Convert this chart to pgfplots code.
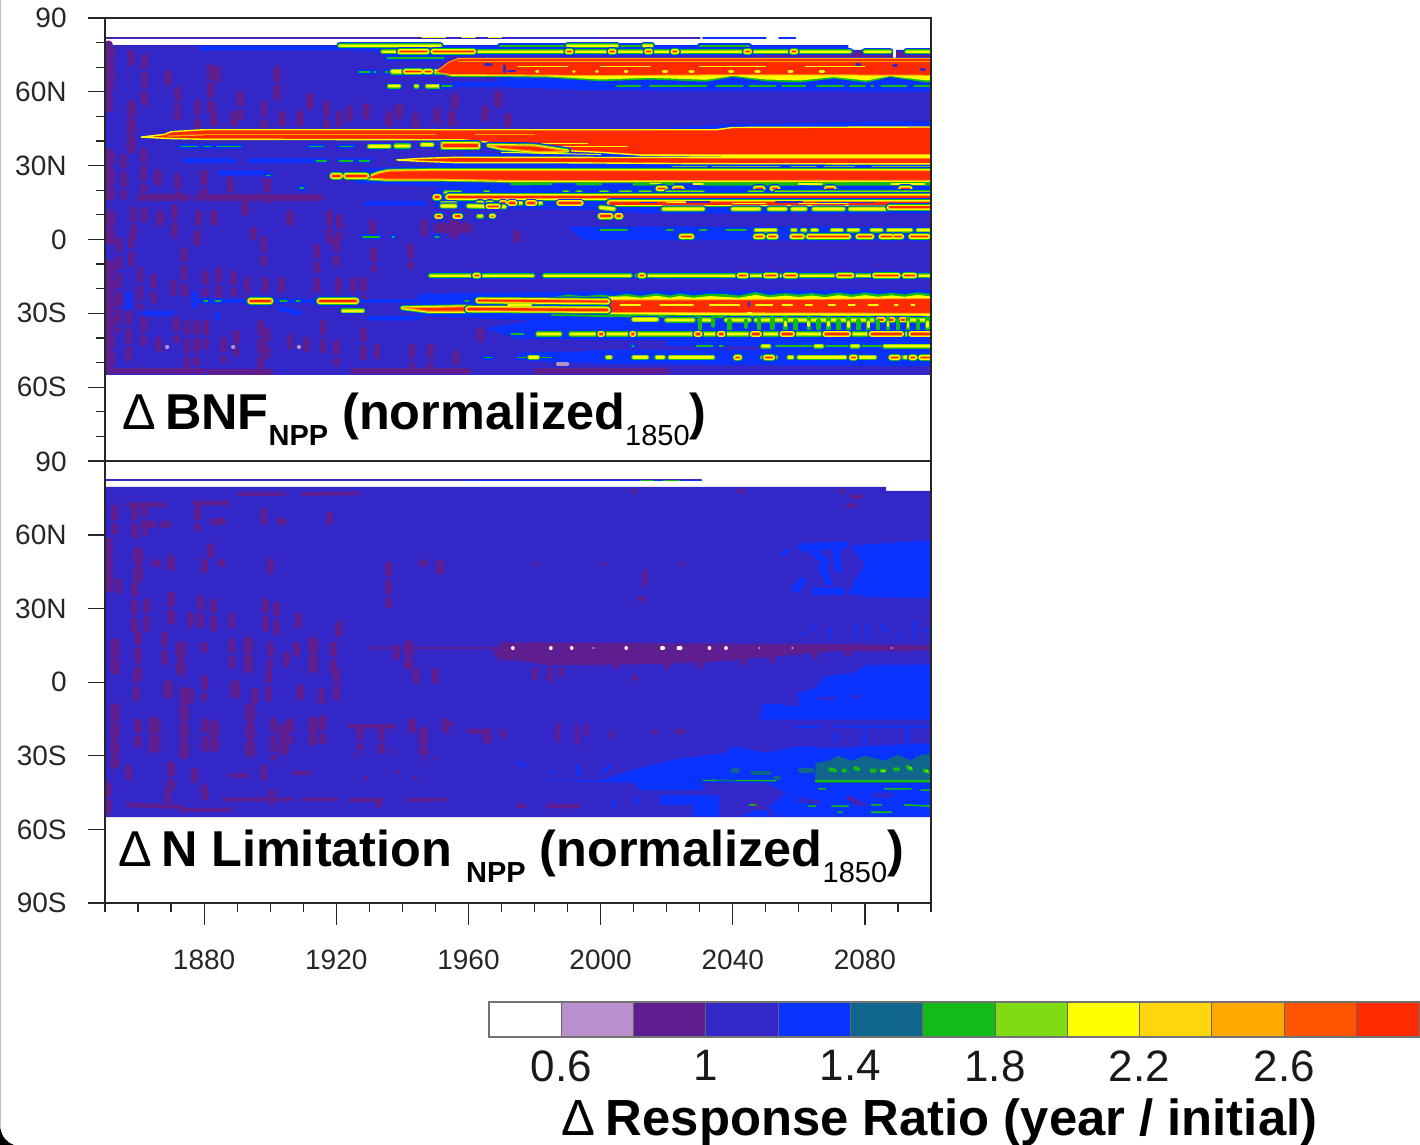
\documentclass[border=0pt]{standalone}
\usepackage{fontspec}
\setmainfont{Liberation Sans}
\usepackage{pgfplots}
\pgfplotsset{compat=1.18}
\definecolor{cLi}{HTML}{B98FCC}
\definecolor{cP}{HTML}{5F1E90}
\definecolor{cD}{HTML}{3327C8}
\definecolor{cB}{HTML}{0A32FF}
\definecolor{cT}{HTML}{10658C}
\definecolor{cG}{HTML}{12BA1A}
\definecolor{cL}{HTML}{80DC10}
\definecolor{cY}{HTML}{FFFF00}
\definecolor{cGo}{HTML}{FFD60C}
\definecolor{cO}{HTML}{FFA800}
\definecolor{cDO}{HTML}{FF5400}
\definecolor{cR}{HTML}{FF2A00}
\pgfplotsset{st/.style={no marks,line cap=round,line join=round,unbounded coords=jump,forget plot},
 panel/.style={anchor=south west,scale only axis,width=413pt,xmin=1850,xmax=2100,ymin=-90,ymax=90,
  axis on top,tick align=outside,xtick pos=bottom,ytick pos=left,axis line style={black!85,line width=.7pt},
  tick style={black!85,line width=.6pt},minor tick length=4.5pt,
  minor ytick={-80,-70,-50,-40,-20,-10,10,20,40,50,70,80},
  tick label style={font=\fontsize{14}{14}\selectfont,text=black!85},
  yticklabel style={inner sep=0pt,xshift=-10.5pt}}}
\newcommand\sk[3]{\addplot[st,draw=#1,line width={(#2)*1pt}] coordinates {#3};}
\newcommand\pk[2]{\addplot[st,draw=cP,line width={(#1)*1pt},dash pattern=on 4.6pt off 4.4pt] coordinates {#2};}
\newcommand\pg[2]{\addplot[draw=none,fill=#1,forget plot] coordinates {#2} -- cycle;}
\newcommand\gR[2]{\sk{cB}{#1+3.6}{#2}\sk{cG}{#1+2.7}{#2}\sk{cY}{#1+1.9}{#2}\sk{cO}{#1+.9}{#2}\sk{cR}{#1}{#2}}
\newcommand\gY[2]{\sk{cB}{#1+3.2}{#2}\sk{cG}{#1+2.2}{#2}\sk{cL}{#1+1.5}{#2}\sk{cY}{#1+.8}{#2}}
\newcommand\gG[2]{\sk{cB}{#1+2.2}{#2}\sk{cG}{#1+.3}{#2}}
\newcommand\band[1]{\addplot[st,draw=cB,line width=3.6pt,fill=cB] coordinates {#1} -- cycle;
 \addplot[st,draw=cG,line width=2.4pt,fill=cG] coordinates {#1} -- cycle;
 \addplot[st,draw=cY,line width=1.5pt,fill=cY] coordinates {#1} -- cycle;
 \addplot[st,draw=cO,line width=.6pt,fill=cR] coordinates {#1} -- cycle;}
\newcommand\subs[1]{\raisebox{-8pt}{\fontsize{14.5}{14.5}\selectfont #1}}
\newcommand\subr[1]{\raisebox{-8pt}{\fontsize{14.5}{14.5}\selectfont\mdseries #1}}
\begin{document}
\begin{tikzpicture}[x=1pt,y=1pt]
\useasboundingbox (0,0) rectangle (710,572.5);
% ---------------- upper panel
\begin{axis}[panel,at={(52.5pt,342pt)},height=221.5pt,major tick length=8.5pt,xtick=\empty,
  ytick={-90,-60,-30,0,30,60,90},yticklabels={,60S,30S,0,30N,60N,90}]
\pg{cD}{(1850,-55)(2100,-55)(2100,77)(2072,77)(2070,78.5)(2065,79)(1850,79)}
\sk{cD}{1.1}{(1850,81.7)(2030,81.7)}
\sk{cP}{.4}{(1850,82)(1950,82)(nan,nan)(2000,82)(2030,82)}
\sk{cB}{.8}{(2031,81.8)(2050,81.8)(nan,nan)(2054,81.8)(2059,81.8)}
\sk{cY}{.5}{(1946,82)(1953,82)(nan,nan)(1958,82)(1962,82)(nan,nan)(1966,82)(1970,82)}
% purple speckle
\pk{3.8}{(1852,77)(1852,62)(nan,nan)(1862,74)(1862,52.6)(nan,nan)(1858,75.6)(1858,69)(nan,nan)(1872,60.7)(1872,48.5)(nan,nan)(1869,67.5)(1869,62)(nan,nan)(1878,55.3)(1878,45.8)(nan,nan)(1882,70)(1882,52.6)(nan,nan)(1884,69)(1884,62)(nan,nan)(1883,51)(1883,46)(nan,nan)(1889,51)(1889,46)(nan,nan)(1891,59)(1891,50)(nan,nan)(1898,55)(1898,46)(nan,nan)(1902,69)(1902,58)(nan,nan)(1903.5,51)(1903.5,46)(nan,nan)(1912,58)(1912,51)(nan,nan)(1909,51)(1909,46)(nan,nan)(1917,55)(1917,46)(nan,nan)(1921,51)(1921,47)(nan,nan)(1924,53)(1924,46)(nan,nan)(1929,54)(1929,47)(nan,nan)(1936,51)(1936,46)(nan,nan)(1939,54)(1939,47)(nan,nan)(1944,50)(1944,46)(nan,nan)(1950.5,52)(1950.5,46)(nan,nan)(1955,51)(1955,46)(nan,nan)(1969,59)(1969,53)(nan,nan)(1972,50)(1972,47)(nan,nan)(1956,58)(1956,54)(nan,nan)(1965,53)(1965,47)}
\pk{4.6}{(1851,79)(1851,50)(nan,nan)(1858,55)(1858,36)(nan,nan)(1851.5,35)(1851.5,17.4)(nan,nan)(1851.6,10.6)(1851.6,-1.6)(nan,nan)(1851.5,-10)(1851.5,-53)}
\pk{3.8}{(1855.6,33.6)(1855.6,17.4)(nan,nan)(1861.6,36)(1861.6,20)(nan,nan)(1866,27)(1866,21)(nan,nan)(1872,25.5)(1872,17.4)(nan,nan)(1880,27)(1880,17.4)(nan,nan)(1888,24)(1888,17.4)(nan,nan)(1899,24)(1899,16)(nan,nan)(1858.6,12)(1858.6,-1.6)(nan,nan)(1862,12)(1862,6.5)(nan,nan)(1866.7,10.6)(1866.7,6.5)(nan,nan)(1871,13)(1871,1)(nan,nan)(1878.3,10.6)(1878.3,5)(nan,nan)(1883,10.6)(1883,6.5)(nan,nan)(1892.4,14.7)(1892.4,9)(nan,nan)(1906,10.6)(1906,3.8)(nan,nan)(1918,10.6)(1918,-1.6)(nan,nan)(1921,9)(1921,1)(nan,nan)(1931,6.5)(1931,1)(nan,nan)(1946.4,6.5)(1946.4,1)(nan,nan)(1974.7,2.5)(1974.7,0)(nan,nan)(1895,3.8)(1895,1)(nan,nan)(1878,2.5)(1878,-1.6)}
\sk{cP}{5}{(1955.5,6.5)(1955.5,2.5)(nan,nan)(1951,4.5)(1960,4.5)}
\sk{cP}{3.5}{(1860.6,17)(1874.8,17)(nan,nan)(1878,17)(1915,17)}
\pk{3.4}{(1854,-0.2)(1854,-36.8)(nan,nan)(1858,1.2)(1858,-9.7)(nan,nan)(1860.6,-12.4)(1860.6,-27.3)(nan,nan)(1864.7,-15)(1864.7,-24.6)(nan,nan)(1874,-4.3)(1874,-21.9)(nan,nan)(1877.8,2.5)(1877.8,-4.3)(nan,nan)(1870.7,-17.8)(1870.7,-24.6)(nan,nan)(1880.3,-13.8)(1880.3,-21.9)(nan,nan)(1884.3,-12.4)(1884.3,-23.2)(nan,nan)(1888.9,-13.8)(1888.9,-21.9)(nan,nan)(1893,-16.5)(1893,-24.6)(nan,nan)(1898,-0.2)(1898,-9.7)(nan,nan)(1898.5,-16.5)(1898.5,-24.6)(nan,nan)(1903.5,-16.5)(1903.5,-23.2)(nan,nan)(1914,-3)(1914,-12.4)(nan,nan)(1914,-16.5)(1914,-23.2)(nan,nan)(1920,-0.2)(1920,-9.7)(nan,nan)(1920.7,-16.5)(1920.7,-26)(nan,nan)(1925.2,-16.5)(1925.2,-26)(nan,nan)(1931.3,-4.3)(1931.3,-12.4)(nan,nan)(1928.2,-16.5)(1928.2,-24.6)(nan,nan)(1942.4,-3)(1942.4,-11)(nan,nan)(1857,-30)(1857,-50.3)(nan,nan)(1861.6,-32.7)(1861.6,-42.2)(nan,nan)(1874.8,-34)(1874.8,-51.7)(nan,nan)(1877.8,-34)(1877.8,-50.3)(nan,nan)(1866.2,-40.9)(1866.2,-47.6)(nan,nan)(1871.7,-32.7)(1871.7,-40.9)(nan,nan)(1880.3,-34)(1880.3,-43.6)(nan,nan)(1885.9,-40.9)(1885.9,-49)(nan,nan)(1889.9,-38)(1889.9,-46.3)(nan,nan)(1897,-34)(1897,-53)(nan,nan)(1899,-36.8)(1899,-47.6)(nan,nan)(1906,-39.5)(1906,-46.3)(nan,nan)(1911,-40.9)(1911,-47.6)(nan,nan)(1916,-34)(1916,-46.3)(nan,nan)(1920,-42)(1920,-50.3)(nan,nan)(1928.2,-36.8)(1928.2,-49)(nan,nan)(1932.3,-43.6)(1932.3,-50.3)(nan,nan)(1942.9,-43.6)(1942.9,-51.7)(nan,nan)(1948.4,-43.6)(1948.4,-53)(nan,nan)(1956.5,-46.3)(1956.5,-53)(nan,nan)(1963.6,-36.8)(1963.6,-43.6)}
\sk{cP}{3}{(1850,-53.6)(1880,-53.6)(nan,nan)(1882,-53.8)(1900,-53.8)(nan,nan)(1925,-53.6)(1960,-53.6)(nan,nan)(1980.6,-53.3)(2020,-53.3)(nan,nan)(1990,-46)(1995,-46)}
% bright blue zones
\sk{cB}{2.4}{(1879,77.7)(1922,77.7)(nan,nan)(1874,32)(1889,32)(nan,nan)(1894,32)(1914,32)(nan,nan)(1885,27)(1899,27)(nan,nan)(1929,14.7)(1946.5,14.7)(nan,nan)(1857,-22)(1857,-28)(nan,nan)(1877,-22)(1877,-27)(nan,nan)(1862,-30)(1870,-30)(nan,nan)(1884,-30)(1884,-32)(nan,nan)(1903,-28)(1909,-30)(nan,nan)(1930,-32)(1945,-32)}
\pg{cB}{(1920,79)(2075,79)(2075,75)(1960,75)(1920,77)}
\pg{cB}{(1969,66)(2100,66)(2100,60)(2000,60.5)(1969,62)}
\pg{cB}{(1955,64)(1990,64)(1990,62)(1955,62)}
\pg{cB}{(2015,45)(2030,46)(2040,47)(2060,47.3)(2080,48)(2100,48)(2100,45)}
\pg{cB}{(1925,23)(1929,29)(1950,30)(1960,35)(2100,35)(2100,19)(1960,21)}
\pg{cB}{(1950,21)(2100,21)(2100,10.5)(2015,10.5)(2000,12)(1950,13)}
\pg{cB}{(1990,5.2)(2100,5.2)(2100,-0.3)(1995,-0.3)}
\pg{cB}{(1945,-22)(1975,-21.5)(2000,-21)(2100,-20.5)(2100,-51.5)(2040,-51)(2000,-50.5)(1980,-49.5)(1975,-46)(2000,-45)(2020,-44.5)(2020,-41)(1975,-40.5)(1965,-36)(1980,-33)(1960,-32)(1945,-31)}
\sk{cD}{2}{(1990,-44)(2050,-44.2)}
\sk{cP}{2.5}{(2050,75)(2100,75)}
% northern streaks
\gY{.2}{(1921,78.7)(1951.5,78.7)}
\gG{.5}{(1969.5,78.7)(1990,78.7)(nan,nan)(2005,78.7)(2013,78.7)(nan,nan)(2030,78.7)(2045,78.7)}
\gY{.2}{(1990,78.7)(2005,78.7)(nan,nan)(2013,78.7)(2015.5,78.7)}
\gY{.3}{(1934,76.3)(2075.5,76.3)(nan,nan)(2080,76.3)(2087.6,76.3)(nan,nan)(2092.6,76.3)(2100,76.3)}
\gR{.7}{(1939.3,76.3)(1947.4,76.3)(nan,nan)(1949.4,76.3)(1961.5,76.3)(nan,nan)(1990,76.3)(1991,76.3)(nan,nan)(2003,76.3)(2004,76.3)(nan,nan)(2014,76.3)(2015,76.3)(nan,nan)(2022,76.3)(2023,76.3)(nan,nan)(2044,76.3)(2045,76.3)(nan,nan)(2058,76.3)(2059,76.3)}
\gG{.8}{(1935.5,73.6)(1952.5,73.6)}
\gG{.8}{(1927,68.2)(1930,68.2)(nan,nan)(1931.5,68.2)(1932,68.2)(nan,nan)(1935,68.2)(1935.5,68.2)}
\gY{.8}{(1937,68.2)(1952,68.2)}
\gR{.7}{(1941,68.2)(1945.5,68.2)(nan,nan)(1947,68.2)(1948.5,68.2)}
\gY{.3}{(1936,62.3)(1939,62.3)(nan,nan)(1944,62.3)(1944.5,62.3)(nan,nan)(1947.5,62.3)(1952,62.3)}
\gG{.7}{(1952,62.3)(1955,62.3)(nan,nan)(2005,62.3)(2012,62.3)(nan,nan)(2015,62.3)(2032,62.3)(nan,nan)(2035,62.3)(2043,62.3)(nan,nan)(2045,62.3)(2053,62.3)(nan,nan)(2055,62.3)(2062,62.3)(nan,nan)(2065.5,62.3)(2073.5,62.3)(nan,nan)(2075.5,62.3)(2080,62.3)(nan,nan)(2082,62.3)(2082.5,62.3)(nan,nan)(2085,62.3)(2092.6,62.3)(nan,nan)(2095,62.3)(2100,62.3)}
% ripple fringe under north band
\addplot[st,draw=none,fill=cG] coordinates {(1952,67)(2100,67)(2100,64)(2098.7,63.8)(2087.6,66)(2080.5,63.8)(2070.5,65.4)(2060.4,63.8)(2050,64.3)(2040,66)(2032,64.1)(2015,65)(2000,64.3)(1984.7,65.7)(1969.5,66)(1955,66)} -- cycle;
\addplot[st,draw=none,fill=cY] coordinates {(1952,67)(2100,67)(2100,64.8)(2098.7,64.6)(2087.6,66.4)(2080.5,64.6)(2070.5,66)(2060.4,64.6)(2050,65)(2040,66.5)(2032,64.9)(2015,65.7)(2000,65)(1984.7,66.2)(1969.5,66.5)(1955,66.5)} -- cycle;
\addplot[st,draw=cO,line width=.5pt,fill=cR] coordinates {(1950,68)(1954,72)(1957,73.6)(2100,73.6)(2100,66.7)(2090,66.8)(2040,66.9)(2000,66.6)(1969,66.9)(1955,67)} -- cycle;
\sk{cO}{.5}{(1957,72.3)(2100,72.3)}
\sk{cY}{.5}{(1975,70.2)(1990,70.2)(nan,nan)(2000,70.4)(2015,70.4)(nan,nan)(2030,70.3)(2050,70.3)(nan,nan)(2062,70.4)(2080,70.4)}
\sk{cY}{1.4}{(1980.6,68.2)(1981,68.2)(nan,nan)(1991.8,68.2)(1992,68.2)(nan,nan)(1998.8,68.2)(1999,68.2)(nan,nan)(2007.4,68.2)(2008,68.2)(nan,nan)(2019,68.2)(2020,68.2)(nan,nan)(2027,68.2)(2028,68.2)(nan,nan)(2039,68.2)(2040,68.2)(nan,nan)(2047,68.2)(2048,68.2)(nan,nan)(2057,68.2)(2058,68.2)(nan,nan)(2066.4,68.2)(2067.5,68.2)}
\sk{cD}{1.3}{(1965,71)(1967,71)(nan,nan)(1972,68.5)(1974,68.5)(nan,nan)(1971,70.6)(1971,68)(nan,nan)(2077.5,71)(2078.5,71)(nan,nan)(2088.6,70.8)(2089.6,70.8)(nan,nan)(2097,69)(2098,69)}
\sk{white}{1.6}{(2089,74.2)(2089,77.2)}
% main band
\addplot[st,draw=cY,line width=.7pt,fill=cR] coordinates {(1861,41.6)(1868,42.7)(1870,43.8)(1880,44.6)(2035,44.6)(2040,45.5)(2100,45.7)(2100,34.3)(2012,34.3)(2000,35.4)(1985,36.4)(1972,37.5)(1966,39.5)(1958,40.5)(1880,40.7)(1870,41)} -- cycle;
\sk{cO}{.5}{(1880,42.5)(1950,42.5)(nan,nan)(1962,42.5)(1980,42.5)}
\sk{cO}{.6}{(1869,42)(1880,42.5)}
\sk{cY}{.5}{(1975,39)(1996,39)(nan,nan)(1988,37.8)(2008,37.8)}
\gG{.5}{(1873,37.8)(1878,37.8)(nan,nan)(1880,37.8)(1882,37.8)(nan,nan)(1884,37.8)(1891,37.8)(nan,nan)(1912,37.8)(1916,37.8)(nan,nan)(1921,37.8)(1925,37.8)}
\gY{.5}{(1930,37.8)(1936,37.8)(nan,nan)(1938,38)(1942,38)(nan,nan)(1946,38.5)(1949,38.5)}
\band{(1952,39)(1963,39)(1963,37.3)(1952,37.3)}
\band{(1966,38.2)(1980,38)(1990,36)(1982,35.6)(1970,37)}
\sk{cY}{.8}{(2012,34.2)(2040,33.9)(nan,nan)(2040,33.9)(2100,33.9)}
\sk{cY}{.5}{(1970,35.4)(2000,34.5)}
% band 2
\gG{.5}{(1914,32)(1917,32)(nan,nan)(1921,32)(1925,32)(nan,nan)(1927,32)(1930,32)}
\addplot[st,draw=cY,line width=.7pt,fill=cR] coordinates {(1938.3,32.3)(1945,32.9)(1956.5,33.4)(2012,33.3)(2100,33.2)(2100,30.7)(2030,30.8)(1985,31.2)(1956.5,31.2)(1945,31.8)} -- cycle;
% row 28.9
\gG{.7}{(2005,29)(2022,29)}
\gY{.5}{(2022,28.9)(2032,28.9)(nan,nan)(2034,28.9)(2054,28.9)(nan,nan)(2058,28.9)(2065,28.9)(nan,nan)(2068,28.9)(2076.5,28.9)(nan,nan)(2082.5,28.9)(2100,28.9)}
% band 3
\band{(1929,25)(1933,27)(1936,27.8)(1950,28)(1975,28)(2100,28)(2100,24)(2040,23.9)(1975,23.9)(1951,24.5)(1935,24.5)}
\gR{1.1}{(1919,25.9)(1921,25.9)(nan,nan)(1923,25.9)(1929,25.9)}
\gG{.6}{(1899,26)(1900,26)(nan,nan)(1909,21)(1910,21)}
\sk{cG}{1.4}{(1973,22.5)(1985,22.7)(nan,nan)(1993,22.5)(2000,22.5)(nan,nan)(2010,22.4)(2022,22.6)(nan,nan)(2030,22.5)(2060,22.4)(nan,nan)(2062,22.5)(2100,22.4)}
\sk{cY}{.7}{(2015,22.7)(2018,22.7)(nan,nan)(2028,22.6)(2031,22.6)(nan,nan)(2060,22.6)(2067,22.6)(nan,nan)(2088,22.6)(2098,22.6)}
% rows 20.8 to 9.5
\gR{.7}{(2017.5,20.8)(2019.5,20.8)(nan,nan)(2022.5,20.8)(2024.5,20.8)(nan,nan)(2047,20.8)(2049,20.8)(nan,nan)(2052,20.8)(2053.5,20.8)(nan,nan)(2068.5,20.8)(2070.5,20.8)(nan,nan)(2091,20.8)(2093.5,20.8)}
\gY{.2}{(1953,19)(1957.5,19)(nan,nan)(1965,19)(1966,19)(nan,nan)(1989,19)(1990,19)(nan,nan)(1993,19)(1994,19)(nan,nan)(2000,19)(2002,19)(nan,nan)(2006,19)(2009,19)(nan,nan)(2012,19)(2015,19)(nan,nan)(2020,19)(2031,19)(nan,nan)(2045,19)(2049,19)(nan,nan)(2053,19)(2100,19)}
\gR{.8}{(1950,17.2)(1951,17.2)}
\gR{1.3}{(1954,17.2)(2100,17.2)}
\gY{.3}{(1952,14.7)(1956,14.7)(nan,nan)(1973,14.8)(1976,14.8)(nan,nan)(1980,14.8)(1982,14.8)}
\gR{.7}{(1963,14.6)(1964,14.6)(nan,nan)(1966,14.6)(1967,14.6)(nan,nan)(1970,14.8)(1971,14.8)(nan,nan)(1972.5,14.8)(1974,14.8)(nan,nan)(1978,14.8)(1980,14.8)(nan,nan)(1987.5,14.8)(1994,14.8)}
\gY{.5}{(1952,13.6)(1956,13.6)(nan,nan)(1960,13.6)(1971,13.3)}
\gR{.5}{(1966,13.5)(1969,13.5)}
\gR{1.5}{(2003,14.8)(2100,14.8)}
\sk{cY}{.5}{(2020,15)(2030,15)(nan,nan)(2040,14.5)(2050,14.5)(nan,nan)(2060,14.7)(2075,14.7)}
\sk{cD}{.9}{(2012,15)(2017,15)(nan,nan)(2026,15.2)(2033,15.2)(nan,nan)(2053,15.2)(2061,15.2)(nan,nan)(2066,15)(2083,15)}
\gY{.5}{(2000,13)(2004,12.4)(nan,nan)(2019,12.4)(2031,12.4)(nan,nan)(2040,12.4)(2048,12.4)(nan,nan)(2051,12.4)(2056,12.4)(nan,nan)(2058,12.4)(2062,12.4)(nan,nan)(2064.5,12.4)(2073.5,12.4)(nan,nan)(2075.5,12.4)(2087.5,12.4)}
\gR{1}{(2087.5,13)(2100,13)}
\gR{.6}{(1950.5,9.5)(1951.5,9.5)(nan,nan)(1956,9.5)(1957.5,9.5)}
\gY{.3}{(1963,9.5)(1964,9.5)}
\gR{.5}{(1967,9.5)(1967.5,9.5)}
\gR{.8}{(2000,9.5)(2003,9.5)(nan,nan)(2005,9.5)(2006,9.5)}
% rows near equator
\gG{.5}{(1928,1.1)(1933,1.1)(nan,nan)(1937,1.1)(1937.5,1.1)(nan,nan)(1950,1.1)(1951,1.1)}
\gG{.5}{(2000,3.8)(2008,3.8)(nan,nan)(2020,3.8)(2022,3.8)(nan,nan)(2030,3.8)(2032,3.8)(nan,nan)(2038,3.8)(2044,3.8)}
\gY{.2}{(2047,3.8)(2053,3.8)(nan,nan)(2058,3.8)(2059,3.8)(nan,nan)(2061,3.8)(2062,3.8)(nan,nan)(2064,3.8)(2065.5,3.8)(nan,nan)(2070,3.8)(2073,3.8)(nan,nan)(2075,3.8)(2078,3.8)(nan,nan)(2082,3.8)(2085,3.8)(nan,nan)(2087,3.8)(2094,3.8)(nan,nan)(2096,3.8)(2100,3.8)}
\gR{.7}{(2024.5,1.1)(2027.5,1.1)(nan,nan)(2047,1.1)(2049,1.1)(nan,nan)(2051,1.1)(2053,1.1)(nan,nan)(2058,1.1)(2061,1.1)(nan,nan)(2063,1.1)(2075,1.1)(nan,nan)(2078,1.1)(2082,1.1)(nan,nan)(2085,1.1)(2088,1.1)(nan,nan)(2089,1.1)(2091,1.1)(nan,nan)(2094,1.1)(2099,1.1)}
% row -14.7
\gY{.3}{(1948.5,-14.7)(1979.5,-14.7)(nan,nan)(1983,-14.7)(2009,-14.7)(nan,nan)(2011,-14.7)(2100,-14.7)}
\gR{.6}{(1962,-14.7)(1963,-14.7)(nan,nan)(2012,-14.7)(2013,-14.7)(nan,nan)(2042,-14.7)(2044,-14.7)(nan,nan)(2050,-14.7)(2053,-14.7)(nan,nan)(2056,-14.7)(2059,-14.7)(nan,nan)(2072,-14.7)(2076,-14.7)(nan,nan)(2083,-14.7)(2090,-14.7)(nan,nan)(2092,-14.7)(2095,-14.7)}
% southern band and its precursors
\sk{cB}{2.4}{(1878,-25)(1950,-25)}
\gG{.5}{(1880,-25)(1881,-25)(nan,nan)(1883.5,-25)(1885,-25)(nan,nan)(1903,-25)(1905,-25)(nan,nan)(1908,-25)(1909,-25)(nan,nan)(1959,-25)(1960,-25)}
\gR{1}{(1894,-25)(1900,-25)(nan,nan)(1915,-25)(1926,-25)}
\gY{.3}{(1922,-29)(1928,-29)}
% ripple above and below
\addplot[st,draw=none,fill=cG] coordinates {(1985,-23.6)(1990,-22.4)(1995,-23)(2000,-22.4)(2004,-23)(2008,-22.1)(2012,-22.9)(2017,-21.9)(2021,-22.8)(2024,-22)(2028,-22.8)(2033,-22)(2038,-22.2)(2042,-22.8)(2047,-21.4)(2051,-22.6)(2056,-21.8)(2060,-22.4)(2064,-21.8)(2068,-22.5)(2072,-21.6)(2076,-22.4)(2080,-21.6)(2084,-22.3)(2088,-21.7)(2092,-22.3)(2096,-21.5)(2100,-22.2)(2100,-32)(2040,-32)(2000,-31.5)(1985,-31)} -- cycle;
\addplot[st,draw=none,fill=cY] coordinates {(1985,-24.3)(2000,-23.4)(2008,-23.1)(2012,-23.7)(2017,-22.9)(2021,-23.7)(2024,-23)(2028,-23.7)(2033,-23)(2042,-23.7)(2047,-22.5)(2051,-23.5)(2056,-22.8)(2060,-23.4)(2064,-22.8)(2068,-23.5)(2072,-22.6)(2076,-23.4)(2080,-22.6)(2084,-23.3)(2088,-22.7)(2092,-23.3)(2096,-22.5)(2100,-23.2)(2100,-31)(2040,-30.8)(2000,-30.3)(1985,-29.8)} -- cycle;
\addplot[st,draw=cO,line width=.4pt,fill=cR] coordinates {(2000,-24.6)(2045,-24.5)(2100,-24)(2100,-30)(2040,-29.8)(2000,-29.6)} -- cycle;
\band{(1940,-27.8)(1960,-27.3)(1960,-29.2)(1948,-29.2)}
\gR{1.2}{(1960,-28.3)(2002,-28.6)}
\gR{.9}{(1963,-24.8)(2002,-25.2)}
\sk{cY}{.7}{(1972,-26.6)(1979,-26.6)(nan,nan)(2006,-26.6)(2012,-26.6)(nan,nan)(2018,-26.6)(2028,-26.6)(nan,nan)(2033,-26.6)(2042,-26.6)(nan,nan)(2047,-26.6)(2052,-26.6)(nan,nan)(2055,-26.6)(2058,-26.6)(nan,nan)(2062,-26.6)(2064,-26.6)(nan,nan)(2069,-26.6)(2071,-26.6)(nan,nan)(2075,-26.6)(2077,-26.6)(nan,nan)(2081,-26.6)(2084,-26.6)(nan,nan)(2089,-26.6)(2090,-26.6)(nan,nan)(2094,-26.6)(2095,-26.6)}
\sk{cB}{1.1}{(2045,-25.5)(2045,-27)}
\sk{cY}{1.2}{(2044.5,-29.8)(2045.5,-29.8)}
% lower stripes
\gY{.6}{(2010,-32.5)(2017,-32.5)(nan,nan)(2020,-32.7)(2028,-32.7)(nan,nan)(2030,-32.7)(2034,-32.7)(nan,nan)(2038,-32.7)(2045,-32.7)(nan,nan)(2047,-32.7)(2100,-32.7)}
\gR{.6}{(2084,-32.7)(2085.5,-32.7)(nan,nan)(2087,-32.7)(2088.5,-32.7)(nan,nan)(2091,-32.7)(2092,-32.7)}
\sk{cG}{2.2}{(2030,-32)(2030,-36.5)(nan,nan)(2034,-32)(2034,-35)(nan,nan)(2039,-33)(2039,-36.8)(nan,nan)(2044,-33)(2044,-35.5)(nan,nan)(2048,-32)(2048,-37)(nan,nan)(2052,-32)(2052,-36)(nan,nan)(2056,-32)(2056,-37)(nan,nan)(2059,-33)(2059,-36.5)(nan,nan)(2063,-32)(2063,-37)(nan,nan)(2066,-33)(2066,-36)(nan,nan)(2069,-32)(2069,-37)(nan,nan)(2072,-33)(2072,-36.5)(nan,nan)(2075,-32)(2075,-37)(nan,nan)(2078,-33)(2078,-36.8)(nan,nan)(2081,-32)(2081,-37)(nan,nan)(2084,-33)(2084,-36.5)(nan,nan)(2087,-32)(2087,-37)(nan,nan)(2090,-33)(2090,-36.5)(nan,nan)(2093,-32)(2093,-37)(nan,nan)(2096,-33)(2096,-36.5)(nan,nan)(2099,-32)(2099,-37)}
\sk{cY}{1.3}{(2056,-33.5)(2056,-35)(nan,nan)(2063,-33.5)(2063,-35)(nan,nan)(2069,-33.5)(2069,-35)(nan,nan)(2075,-33.5)(2075,-35.5)(nan,nan)(2081,-33.5)(2081,-35.5)(nan,nan)(2087,-33.5)(2087,-35)(nan,nan)(2093,-33.5)(2093,-35.5)(nan,nan)(2099,-33.5)(2099,-35.5)}
\gG{.5}{(1973,-38.4)(1976.6,-38.4)}
\gY{.4}{(1981,-38.4)(1987.7,-38.4)(nan,nan)(1991,-38.4)(2100,-38.4)}
\gR{.7}{(1999.8,-38.4)(2000.5,-38.4)(nan,nan)(2009.5,-38.4)(2010,-38.4)(nan,nan)(2029,-38.4)(2030,-38.4)(nan,nan)(2036,-38.4)(2037,-38.4)(nan,nan)(2046,-38.4)(2048,-38.4)(nan,nan)(2055,-38.4)(2058,-38.4)(nan,nan)(2068,-38.4)(2075,-38.4)(nan,nan)(2082,-38.4)(2091,-38.4)(nan,nan)(2094,-38.4)(2100,-38.4)}
\gG{.5}{(2009.5,-43.3)(2010,-43.3)(nan,nan)(2029,-43.3)(2034,-43.3)(nan,nan)(2036,-43.3)(2037,-43.3)(nan,nan)(2049,-43.3)(2050,-43.3)(nan,nan)(2053,-43.3)(2100,-43.3)}
\gY{.3}{(2049,-43.3)(2051,-43.3)(nan,nan)(2065,-43.3)(2067,-43.3)(nan,nan)(2076,-43.3)(2078,-43.3)(nan,nan)(2086,-43.3)(2100,-43.3)}
\gG{.5}{(1982,-47.9)(1985,-47.9)(nan,nan)(1965,-47.9)(1967,-47.9)(nan,nan)(1975,-47.9)(1980,-47.9)}
\gY{.4}{(1978.5,-47.9)(1981,-47.9)(nan,nan)(2002,-47.9)(2003,-47.9)(nan,nan)(2010,-47.9)(2014,-47.9)(nan,nan)(2017,-47.9)(2019,-47.9)(nan,nan)(2021,-47.9)(2034,-47.9)(nan,nan)(2049,-47.9)(2053,-47.9)(nan,nan)(2057,-47.9)(2058,-47.9)(nan,nan)(2060,-47.9)(2074,-47.9)(nan,nan)(2078,-47.9)(2083,-47.9)(nan,nan)(2088,-47.9)(2091,-47.9)(nan,nan)(2092,-47.9)(2094,-47.9)(nan,nan)(2096,-47.9)(2100,-47.9)}
\gR{.7}{(2041,-47.9)(2042,-47.9)(nan,nan)(2050,-47.9)(2052,-47.9)(nan,nan)(2076,-47.9)(2077,-47.9)(nan,nan)(2088,-47.9)(2090,-47.9)(nan,nan)(2094,-47.9)(2095,-47.9)(nan,nan)(2097,-47.9)(2100,-47.9)}
\sk{cLi}{1.6}{(1987,-50.6)(1990,-50.6)}
\sk{cLi}{1.8}{(1868.7,-43.6)(1868.9,-43.6)(nan,nan)(1888.7,-43.6)(1888.9,-43.6)(nan,nan)(1908.6,-43.6)(1908.8,-43.6)}
\node[anchor=base west,inner sep=0pt] at (rel axis cs:.0206,.07) {\fontsize{25.2}{25.2}\selectfont Δ\hspace{-2.5pt} {\bfseries BNF\subs{NPP} (normalized\subr{1850})}};
\end{axis}
% ---------------- lower panel
\begin{axis}[panel,at={(52.5pt,121pt)},height=220.75pt,major tick length=11pt,
  xtick={1880,1920,1960,2000,2040,2080},xticklabels={1880,1920,1960,2000,2040,2080},
  minor xtick={1850,1860,1870,1890,1900,1910,1930,1940,1950,1970,1980,1990,2010,2020,2030,2050,2060,2070,2090,2100},
  xticklabel style={yshift=-9pt},
  ytick=\empty,extra y ticks={-90,-60,-30,0,30,60,90},extra y tick labels={90S,60S,30S,0,30N,60N,90},
  extra y tick style={major tick length=8.5pt}]
\pg{cD}{(1850,-55)(2100,-55)(2100,78)(2086.4,78)(2086.4,79.7)(1850,79.7)}
\sk{cD}{1.1}{(1850,82.3)(2030.4,82.3)}
\sk{cB}{.6}{(1960,82.3)(2030.4,82.3)}
\sk{cG}{.4}{(2012,82.3)(2016,82.3)(nan,nan)(2019,82.3)(2024,82.3)}
% purple speckle
\pk{5}{(1860,53.3)(1860,42.5)(nan,nan)(1851,57)(1851,36)(nan,nan)(1853,16)(1853,5)(nan,nan)(1873,15)(1873,4.5)(nan,nan)(1893.4,16.7)(1893.4,4.5)(nan,nan)(1913,16.7)(1913,4.5)(nan,nan)(1941.9,15.3)(1941.9,7)(nan,nan)(1969,12)(1972,11)(nan,nan)(1853,-10.4)(1853,-33.5)(nan,nan)(1874,-3.7)(1874,-32)(nan,nan)(1864.7,-16)(1864.7,-28)(nan,nan)(1894,-10.4)(1894,-30.8)(nan,nan)(1883,-17)(1883,-26.7)(nan,nan)(1904,-18.6)(1904,-28)(nan,nan)(1913,-15.9)(1913,-24)(nan,nan)(1946.4,-20)(1946.4,-28)(nan,nan)(1869,-1)(1869,-7.7)(nan,nan)(1889.4,-1)(1889.4,-6.4)}
\pk{3.6}{(1859,71)(1859,57.4)(nan,nan)(1878,71)(1878,62.8)(nan,nan)(1882.8,65.5)(1887,65.5)(nan,nan)(1898,69.6)(1898,64.2)(nan,nan)(1903,65.5)(1904,65.5)(nan,nan)(1918,68.2)(1918,65.5)(nan,nan)(1862,72.3)(1862,60.1)(nan,nan)(1853,71)(1853,61.5)(nan,nan)(1862,64.2)(1869,64.2)(nan,nan)(1882,55.4)(1882,52)(nan,nan)(1870,50.6)(1870,45.2)(nan,nan)(1865,48.6)(1866,48.6)(nan,nan)(1880,49.3)(1880,45.2)(nan,nan)(1885,48.6)(1885.5,48.6)(nan,nan)(1900,49.3)(1900,45.2)(nan,nan)(1935.8,47.9)(1935.8,31.6)(nan,nan)(1951.4,48.6)(1951.4,45.2)(nan,nan)(1945.9,48.6)(1946.5,48.6)(nan,nan)(1854,41.1)(1854,35.7)(nan,nan)(1870,35.7)(1870,24.8)(nan,nan)(1878.8,34.3)(1878.8,20.8)(nan,nan)(1882.8,33)(1882.8,20.8)(nan,nan)(1898.5,33)(1898.5,20.8)(nan,nan)(1902,31.6)(1902,19.4)(nan,nan)(1888.4,27)(1888.4,23.5)(nan,nan)(1908.6,26.9)(1908.6,23.5)(nan,nan)(1920.7,23.5)(1920.7,19.4)(nan,nan)(1859,39.8)(1859,20.8)(nan,nan)(1862.6,33)(1862.6,20.8)(nan,nan)(1875.8,27.5)(1875.8,20.8)(nan,nan)(1860,20)(1860,1.8)(nan,nan)(1868,19.4)(1868,7.2)(nan,nan)(1880,15.3)(1880,13)(nan,nan)(1888.4,16.7)(1888.4,7.2)(nan,nan)(1900,15.3)(1900,7.2)(nan,nan)(1905,11.3)(1905,7.2)(nan,nan)(1908,15.3)(1908,8.5)(nan,nan)(1919,15.3)(1919,4.5)(nan,nan)(1938.3,14)(1938.3,8.5)(nan,nan)(1859.6,4.5)(1859.6,-9.1)(nan,nan)(1875.8,-3.7)(1875.8,-9)(nan,nan)(1880,1.8)(1880,-6.4)(nan,nan)(1899.5,4.5)(1899.5,-7.7)(nan,nan)(1895.4,-3.7)(1895.4,-9.1)(nan,nan)(1909,-2.3)(1909,-6.4)(nan,nan)(1915.6,-3.7)(1915.6,-8.4)(nan,nan)(1920,-2.3)(1920,-7.7)(nan,nan)(1920,4.5)(1920,-.4)(nan,nan)(1944.4,4.5)(1944.4,-1.6)(nan,nan)(1950,4.5)(1950,-1.6)(nan,nan)(1860,-15.9)(1860,-25.4)(nan,nan)(1866,-15.9)(1866,-26.7)(nan,nan)(1880,-15.9)(1880,-29.4)(nan,nan)(1901,-15.9)(1901,-30.8)(nan,nan)(1906,-15.9)(1906,-24)(nan,nan)(1916,-14.5)(1916,-24)(nan,nan)(1942.9,-15.9)(1942.9,-22.7)(nan,nan)(1953,-15.9)(1953,-20)(nan,nan)(1965.6,-20)(1965.6,-25.4)(nan,nan)(1927,-18.6)(1927,-26.7)(nan,nan)(1933.8,-18.6)(1933.8,-28)(nan,nan)(1857,-34.9)(1857,-41.7)(nan,nan)(1870,-33.5)(1870,-43)(nan,nan)(1877,-36)(1877,-41.7)(nan,nan)(1898,-34.9)(1898,-40.3)(nan,nan)(1851,-41.7)(1851,-52.5)(nan,nan)(1869,-44.3)(1869,-49.1)(nan,nan)(1880,-43)(1880,-48.4)(nan,nan)(1900.5,-45)(1900.5,-51.2)(nan,nan)(1932.8,-48.4)(1932.8,-49.8)}
\sk{cP}{2.2}{(1857,72.3)(1868,72.3)(nan,nan)(1877,73)(1887,73)(nan,nan)(1924,-18)(1937.3,-18)(nan,nan)(1955,-17)(1954,-17)(nan,nan)(1960,-20)(1966,-20)(nan,nan)(1970,-20.5)(1971,-21.5)(nan,nan)(1926,-29.6)(1926,-29.6)(nan,nan)(1937.3,-28.4)(1937.3,-28.4)(nan,nan)(1946.4,-31.5)(1946.4,-31.5)(nan,nan)(1950,-31.3)(1950,-31.3)(nan,nan)(1888,-38)(1893,-38)(nan,nan)(1907,-37)(1912,-37)(nan,nan)(1929,-39)(1929,-39)(nan,nan)(1938.8,-36.9)(1938.8,-36.9)(nan,nan)(1943.9,-39)(1943.9,-39)(nan,nan)(1857,-50)(1873,-50.8)(nan,nan)(1873,-52)(1888,-52)}
\sk{cP}{1.8}{(1890.4,76.7)(1904.5,76.7)(nan,nan)(1909.6,76.7)(1926.7,77)(nan,nan)(1886,-47.8)(1907,-47.8)(nan,nan)(1910,-47.8)(1920,-47.8)(nan,nan)(1924,-48)(1934,-48)(nan,nan)(1942,-48)(1953,-47.8)}
\sk{cP}{.8}{(1930,14)(1975,14)}
% purple equatorial band
\addplot[st,draw=cP,line width=.8pt,fill=cP] coordinates {(1969.6,16)(2050,15.3)(2070,15.3)(2100,14.7)(2100,13.2)(2070,13)(2050,10.5)(2032,8.5)(2010,7.6)(1985,7.2)(1975,9.2)(1969.6,9.2)} -- cycle;
\sk{cP}{3}{(1980,5)(1980,2)(nan,nan)(1984.7,5)(1984.7,1)(nan,nan)(1988,5)(1988,3)(nan,nan)(2010.5,2.2)(2010.5,1.5)(nan,nan)(2005,9)(2005,6.5)(nan,nan)(2020,9)(2020,6.5)(nan,nan)(2030,9)(2030,6.5)(nan,nan)(2043,11)(2043,8)(nan,nan)(2052,13)(2052,9)(nan,nan)(2065,14)(2065,10.5)(nan,nan)(2075,14)(2075,11.5)}
\sk{cP}{2.2}{(1980.6,48.5)(1980.8,48.5)(nan,nan)(2000.8,48.5)(2001,48.5)(nan,nan)(2013.4,45)(2013.4,39.7)(nan,nan)(2024.5,48.5)(2024.7,48.5)(nan,nan)(2011.4,33.9)(2013,33.9)(nan,nan)(2076,75.7)(2079,75.7)(nan,nan)(2075,72)(2077,72)(nan,nan)(2010,78)(2010.5,78)(nan,nan)(2042,78)(2043,78)(nan,nan)(2073,78)(2073.5,78)(nan,nan)(1987,-18)(1987,-23.5)(nan,nan)(1992.8,-18)(1992.8,-25)(nan,nan)(1995.8,-18)(1995.8,-21)(nan,nan)(1970,-20)(1971,-22)(nan,nan)(2003.4,-20.6)(2003.4,-22)(nan,nan)(2016,-20)(2017,-20)(nan,nan)(2023,-20)(2025,-20)(nan,nan)(1975,-50.5)(1977,-50.5)(nan,nan)(1984,-50.5)(1993.3,-50.5)}
% bright blue
\pg{cB}{(2076,55.8)(2100,58)(2100,34.3)(2080.5,34.8)(2075,36)(2077,42)(2080,48)(2077,53)}
\addplot[st,draw=cB,line width=4pt,dash pattern=on 5pt off 3pt] coordinates {(2061,55)(2074,56)(nan,nan)(2064,54)(2068,49)(nan,nan)(2071,55)(2072,46)(nan,nan)(2059,38)(2062,43)(nan,nan)(2065,37)(2073,37)(nan,nan)(2067,47)(2069,41)};
\sk{cB}{1.8}{(2055,52)(2057,54)}
\pg{cB}{(2100,7.2)(2080.5,7)(2076.5,3.8)(2067.4,2.4)(2065.4,-2.3)(2059.4,-4.4)(2060.4,-9.8)(2049,-8.5)(2048.3,-15.2)(2100,-15.2)}
\sk{cD}{1.5}{(2066,-6.5)(2071,-6.5)(nan,nan)(2076,-6)(2078,-6)}
\sk{cB}{1.1}{(2059,-18.2)(2066,-18.2)(nan,nan)(2071,-18)(2100,-18)(nan,nan)(2060,20)(2061,20)(nan,nan)(2064,24)(2064,21)(nan,nan)(2069.5,22)(2069.5,18)(nan,nan)(2077,24)(2077,18)(nan,nan)(2081,24)(2081,18)(nan,nan)(2085,24)(2087,20)(nan,nan)(2090,21)(2091,18)(nan,nan)(2095,25)(2095,18)(nan,nan)(2098,22)(2100,20)}
\sk{cB}{1.5}{(2080,-20)(2080,-26)(nan,nan)(2093,-19)(2093,-26)(nan,nan)(2071,-21)(2071,-24)}
\pg{cB}{(1974.6,-39.7)(2000,-40)(2010,-35.6)(2022,-31.5)(2038,-28.8)(2040,-26)(2050,-28.8)(2060,-26)(2070,-27)(2100,-24.7)(2100,-41)(2010,-41)}
\pg{cB}{(2050,-41)(2100,-41)(2100,-54.8)(2042,-54.8)(2052,-50)(2056,-45)}
\pg{cB}{(2010,-41)(2030,-41)(2032,-44)(2012,-44)}
\pg{cB}{(2018,-46)(2036,-46)(2036,-54.8)(2028,-54.8)(2028,-50)(2018,-50)}
\sk{cB}{1.5}{(2011,-47)(2011,-50)(nan,nan)(2004,-48)(2004,-51)(nan,nan)(1985,-36)(1986,-37)(nan,nan)(1975,-32.5)(1977,-34)(nan,nan)(1993,-34)(1993,-38)(nan,nan)(2000,-37)(2003,-34)}
\sk{cD}{2.2}{(2047,-46)(2052,-54)(nan,nan)(2060,-48)(2066,-49)(nan,nan)(2075,-47)(2080,-50)(nan,nan)(2083,-46)(2088,-46)}
\sk{cP}{1.2}{(2046,-49)(2049,-52)(nan,nan)(2075,-47)(2078,-50)}
% teal and green
\pg{cT}{(2065,-41)(2100,-41)(2100,-29)(2096,-30)(2094,-32)(2090,-29.5)(2086,-32)(2080,-30)(2076,-32)(2072,-30)(2069,-32)(2065,-33)}
\sk{cT}{2.2}{(2060.4,-36)(2064,-36)(nan,nan)(2040,-36)(2041.5,-36)(nan,nan)(2046,-37)(2051,-37)(nan,nan)(2053,-39)(2054,-39)}
\sk{cT}{1}{(2032,-40)(2053,-40.2)}
\sk{cG}{2}{(2069.5,-35.5)(2071,-36)(nan,nan)(2077,-35)(2078,-35.5)(nan,nan)(2085,-36)(2086,-36)(nan,nan)(2093,-34.5)(2094,-35.5)(nan,nan)(2098,-36)(2099,-36.5)(nan,nan)(2082,-36)(2083,-36)(nan,nan)(2073.5,-36)(2074,-36)(nan,nan)(2089,-35.5)(2090,-35.5)}
\sk{cL}{.9}{(2085,-36.3)(2086,-36.3)(nan,nan)(2098.5,-36.3)(2099,-36.3)(nan,nan)(2093.5,-35)(2094,-35)}
\sk{cG}{.8}{(2031,-40)(2035,-40)(nan,nan)(2041,-40)(2053,-40)(nan,nan)(2065,-40.2)(2100,-40.2)}
\sk{cG}{.8}{(2086,-43.5)(2094,-43.5)(nan,nan)(2097,-44)(2100,-44)(nan,nan)(2066,-43.5)(2068,-43.5)(nan,nan)(2045,-50)(2047,-50)(nan,nan)(2063,-50.5)(2065,-50.5)(nan,nan)(2070,-50.5)(2075,-50.5)(nan,nan)(2082,-50)(2085,-50)(nan,nan)(2092,-50)(2100,-50.5)(nan,nan)(2072,-53)(2073,-53)(nan,nan)(2082,-53)(2088,-53)}
% pale dots
\sk{white}{1.7}{(1973.4,13.9)(1973.5,13.9)(nan,nan)(1984.9,13.9)(1985,13.9)(nan,nan)(1991.2,13.9)(1991.3,13.9)(nan,nan)(2007.7,13.9)(2007.8,13.9)(nan,nan)(2018.5,13.9)(2019,13.9)(nan,nan)(2023.5,13.9)(2024.3,13.9)(nan,nan)(2032.9,13.9)(2033,13.9)(nan,nan)(2037.9,13.9)(2038,13.9)}
\sk{cLi}{1.2}{(1997.8,13.9)(1997.9,13.9)(nan,nan)(2048,13.9)(2048.1,13.9)(nan,nan)(2058,13.9)(2058.1,13.9)(nan,nan)(2088,13.9)(2088.1,13.9)}
\node[anchor=base west,inner sep=0pt] at (rel axis cs:.0157,.083) {\fontsize{25.2}{25.2}\selectfont Δ\hspace{-2.5pt} {\bfseries N Limitation \subs{NPP} (normalized\subr{1850})}};
\end{axis}
% ---------------- colour key
\begin{axis}[at={(244.5pt,54pt)},anchor=south west,scale only axis,width=465.5pt,height=17.5pt,
  xmin=0.4,xmax=2.976,ymin=0,ymax=1,ytick=\empty,axis on top,axis line style={black!55,line width=.7pt},
  xtick={.6,1,1.4,1.8,2.2,2.6},xticklabels={0.6,1,1.4,1.8,2.2,2.6},xtick style={draw=none},
  xticklabel style={font=\fontsize{22}{22}\selectfont,text=black!90,inner sep=0pt,yshift=-6.5pt},
  xlabel={Δ\hspace{-2pt} {\bfseries Response Ratio (year / initial)}},
  xlabel style={at={(axis description cs:.484,0)},anchor=north,yshift=-27.5pt,font=\fontsize{25.4}{25.4}\selectfont}]
\addplot[draw=black!60,fill=white,forget plot] coordinates {(.4,0)(.6,0)(.6,1)(.4,1)} -- cycle;
\addplot[draw=black!60,fill=cLi,forget plot] coordinates {(.6,0)(.8,0)(.8,1)(.6,1)} -- cycle;
\addplot[draw=black!60,fill=cP,forget plot] coordinates {(.8,0)(1,0)(1,1)(.8,1)} -- cycle;
\addplot[draw=black!60,fill=cD,forget plot] coordinates {(1,0)(1.2,0)(1.2,1)(1,1)} -- cycle;
\addplot[draw=black!60,fill=cB,forget plot] coordinates {(1.2,0)(1.4,0)(1.4,1)(1.2,1)} -- cycle;
\addplot[draw=black!60,fill=cT,forget plot] coordinates {(1.4,0)(1.6,0)(1.6,1)(1.4,1)} -- cycle;
\addplot[draw=black!60,fill=cG,forget plot] coordinates {(1.6,0)(1.8,0)(1.8,1)(1.6,1)} -- cycle;
\addplot[draw=black!60,fill=cL,forget plot] coordinates {(1.8,0)(2,0)(2,1)(1.8,1)} -- cycle;
\addplot[draw=black!60,fill=cY,forget plot] coordinates {(2,0)(2.2,0)(2.2,1)(2,1)} -- cycle;
\addplot[draw=black!60,fill=cGo,forget plot] coordinates {(2.2,0)(2.4,0)(2.4,1)(2.2,1)} -- cycle;
\addplot[draw=black!60,fill=cO,forget plot] coordinates {(2.4,0)(2.6,0)(2.6,1)(2.4,1)} -- cycle;
\addplot[draw=black!60,fill=cDO,forget plot] coordinates {(2.6,0)(2.8,0)(2.8,1)(2.6,1)} -- cycle;
\addplot[draw=black!60,fill=cR,forget plot] coordinates {(2.8,0)(3,0)(3,1)(2.8,1)} -- cycle;
\end{axis}
% window corner of the screenshot
\fill[black] (0,0) -- (0,9) .. controls (1,4) and (3,1.5) .. (7,0) -- cycle;
\draw[black!25,line width=.5pt] (0.2,9) -- (0.2,572.5);
\end{tikzpicture}
\end{document}
